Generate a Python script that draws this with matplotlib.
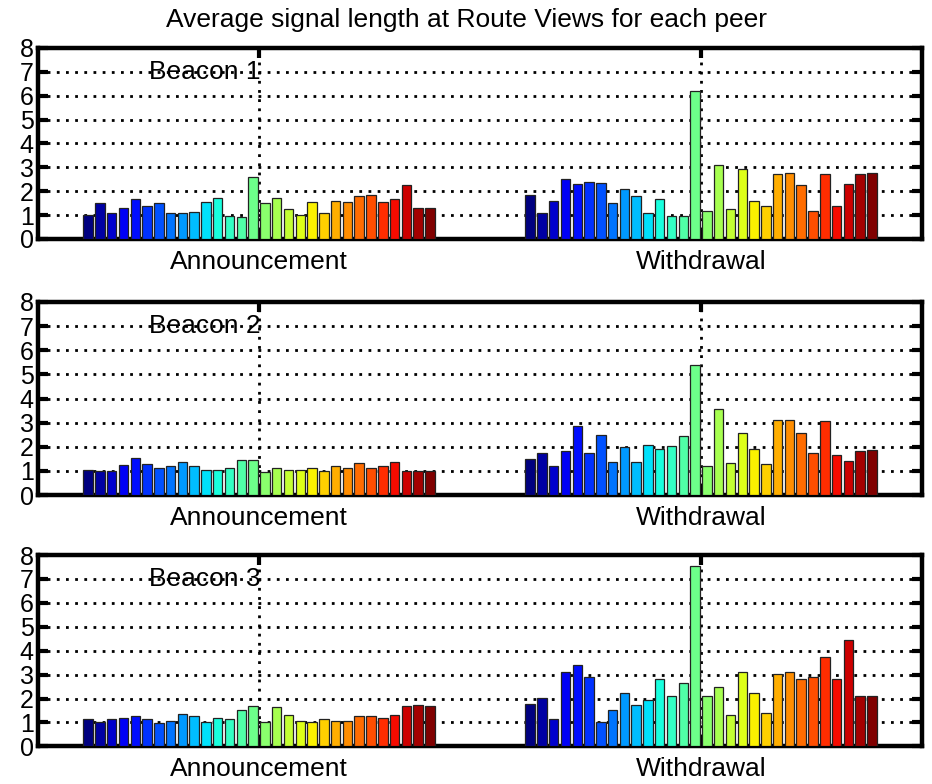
import numpy as np
import matplotlib
matplotlib.use('Agg')
import matplotlib.pyplot as plt

plt.rcParams['font.family'] = ['Liberation Sans', 'DejaVu Sans']

# 每个 beacon 的平均信号长度（30 个 peer）
groups = ['Announcement', 'Withdrawal']
beacons = ['Beacon 1', 'Beacon 2', 'Beacon 3']

ann1 = [1.01, 1.51, 1.08, 1.29, 1.67, 1.39, 1.51, 1.07, 1.07, 1.13,
        1.56, 1.72, 0.96, 0.94, 2.60, 1.51, 1.72, 1.24, 1.01, 1.56,
        1.08, 1.61, 1.56, 1.78, 1.83, 1.56, 1.67, 2.28, 1.29, 1.29]
wd1 = [1.85, 1.07, 1.57, 2.50, 2.29, 2.39, 2.33, 1.51, 2.11, 1.78,
       1.07, 1.68, 0.96, 0.96, 6.18, 1.18, 3.10, 1.24, 2.93, 1.57,
       1.40, 2.72, 2.78, 2.24, 1.18, 2.72, 1.40, 2.29, 2.72, 2.78]

ann2 = [1.03, 0.99, 0.99, 1.26, 1.53, 1.27, 1.10, 1.20, 1.37, 1.20,
        1.03, 1.03, 1.14, 1.46, 1.46, 0.97, 1.13, 1.03, 1.03, 1.14,
        0.98, 1.20, 1.14, 1.31, 1.14, 1.20, 1.37, 0.98, 0.98, 0.98]
wd2 = [1.49, 1.74, 1.20, 1.81, 2.84, 1.74, 2.47, 1.37, 1.97, 1.37,
       2.08, 1.90, 2.03, 2.46, 5.39, 1.20, 3.56, 1.31, 2.57, 1.90,
       1.27, 3.12, 3.12, 2.57, 1.75, 3.05, 1.64, 1.42, 1.81, 1.86]

ann3 = [1.13, 1.03, 1.13, 1.20, 1.26, 1.13, 0.99, 1.08, 1.35, 1.26,
        1.02, 1.20, 1.13, 1.52, 1.68, 1.00, 1.63, 1.31, 1.08, 1.02,
        1.13, 1.08, 1.08, 1.26, 1.26, 1.19, 1.31, 1.68, 1.74, 1.68]
wd3 = [1.79, 2.03, 1.13, 3.09, 3.42, 2.92, 1.02, 1.52, 2.22, 1.74,
       1.96, 2.83, 2.12, 2.66, 7.56, 2.12, 2.50, 1.30, 3.09, 2.22,
       1.41, 3.03, 3.09, 2.83, 2.92, 3.75, 2.83, 4.46, 2.11, 2.11]

panels = [(ann1, wd1), (ann2, wd2), (ann3, wd3)]

n_peer = len(ann1)
colors = plt.cm.jet(np.linspace(0, 1, n_peer))
slot = 0.8 / n_peer
cat_x = np.arange(1, len(groups) + 1)

fig = plt.figure(figsize=(9.32, 7.84), dpi=100)
boxes = [(0.0408, 0.6952, 0.9485, 0.2436),
         (0.0408, 0.3686, 0.9485, 0.2462),
         (0.0408, 0.0480, 0.9485, 0.2440)]

grid_style = dict(color='black', linewidth=2.0, linestyle=(0, (1, 2.3)))

for k, (ann, wd) in enumerate(panels):
    ax = fig.add_axes(boxes[k])
    data = np.array([ann, wd])  # shape (2, 30)
    for i in range(n_peer):
        xs = cat_x + (i - (n_peer - 1) / 2) * slot
        ax.bar(xs, data[:, i], width=slot * 0.8, color=colors[i],
               edgecolor='#222222', linewidth=0.9, zorder=3)

    ax.set_xlim(0.5, 2.5)
    ax.set_ylim(0, 8)
    ax.set_yticks(range(0, 9))
    ax.set_xticks(cat_x)
    ax.set_xticklabels(groups, fontsize=19)
    ax.tick_params(axis='y', labelsize=18, direction='in', length=7,
                   width=3, right=True, pad=3)
    ax.tick_params(axis='x', direction='in', length=7, width=3,
                   top=True, pad=8)
    for sp in ax.spines.values():
        sp.set_linewidth(3.2)

    for yv in range(1, 8):
        ax.axhline(yv, zorder=1, **grid_style)
    for xv in cat_x:
        ax.axvline(xv, zorder=1, **grid_style)

    ax.text(0.75, 7, beacons[k], fontsize=19, va='center', ha='left', zorder=4)

fig.suptitle('Average signal length at Route Views for each peer',
             fontsize=19, y=0.99)

fig.savefig('out.png', dpi=100)
